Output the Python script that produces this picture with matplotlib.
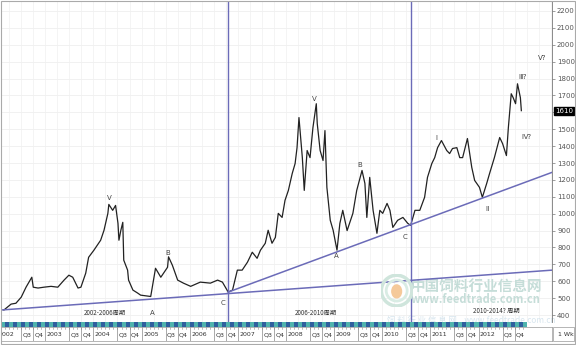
import numpy as np
import matplotlib
matplotlib.use('Agg')
import matplotlib.pyplot as plt
from matplotlib.patches import Circle, Ellipse, Rectangle

# 大豆期货周线: 时间(小数年), 价格
t = [2002.14, 2002.29, 2002.39, 2002.50, 2002.60, 2002.72, 2002.75, 2002.85, 2002.97,
     2003.12, 2003.26, 2003.39, 2003.49, 2003.57, 2003.68, 2003.74, 2003.84, 2003.90,
     2004.01, 2004.15, 2004.22, 2004.30, 2004.32, 2004.40, 2004.46, 2004.51, 2004.53,
     2004.57, 2004.61, 2004.63, 2004.71, 2004.73, 2004.82, 2004.92, 2004.98, 2005.19,
     2005.29, 2005.40, 2005.54, 2005.56, 2005.64, 2005.75, 2005.87, 2006.02, 2006.22,
     2006.43, 2006.58, 2006.68, 2006.80, 2006.89, 2006.99, 2007.09, 2007.20, 2007.30,
     2007.40, 2007.47, 2007.57, 2007.63, 2007.71, 2007.78, 2007.84, 2007.92, 2007.98,
     2008.05, 2008.13, 2008.19, 2008.23, 2008.27, 2008.34, 2008.38, 2008.44, 2008.50,
     2008.56, 2008.63, 2008.65, 2008.71, 2008.77, 2008.81, 2008.85, 2008.92, 2008.98,
     2009.06, 2009.12, 2009.18, 2009.27, 2009.39, 2009.47, 2009.58, 2009.64, 2009.68,
     2009.74, 2009.81, 2009.89, 2009.95, 2010.01, 2010.10, 2010.16, 2010.22, 2010.32,
     2010.43, 2010.53, 2010.59, 2010.68, 2010.78, 2010.88, 2010.94, 2011.03, 2011.09,
     2011.15, 2011.23, 2011.34, 2011.40, 2011.46, 2011.55, 2011.61, 2011.67, 2011.77,
     2011.86, 2011.92, 2012.02, 2012.08, 2012.17, 2012.23, 2012.33, 2012.44, 2012.50,
     2012.58, 2012.62, 2012.68, 2012.72, 2012.77, 2012.81, 2012.87, 2012.89]
price = [430, 465, 470, 506, 565, 624, 565, 560, 565,
         570, 565, 607, 636, 624, 560, 565, 648, 742,
         784, 843, 902, 1002, 1055, 1020, 1049, 943, 843,
         902, 949, 725, 666, 607, 548, 530, 518, 510,
         677, 624, 683, 745, 695, 607, 589, 570, 595,
         589, 607, 595, 536, 548, 666, 666, 713, 772,
         736, 784, 825, 902, 825, 860, 1002, 978, 1079,
         1138, 1238, 1297, 1391, 1569, 1332, 1138, 1374, 1332,
         1509, 1651, 1533, 1374, 1315, 1492, 1156, 961, 902,
         784, 943, 1020, 900, 1002, 1138, 1256, 1179, 978,
         1215, 1020, 884, 1020, 1002, 1061, 1020, 919, 961,
         978, 943, 931, 1020, 1020, 1097, 1215, 1297, 1332,
         1391, 1433, 1374, 1356, 1386, 1391, 1332, 1332, 1445,
         1274, 1197, 1156, 1097, 1179, 1238, 1332, 1451, 1415,
         1344, 1509, 1710, 1687, 1651, 1769, 1687, 1610]
last_price = 1610

# 趋势线与周期分界
low_line_t = [2002.083, 2013.53]
low_line_v = [430, 666]
up_line_t = [2006.80, 2013.53]
up_line_v = [536, 1245]
cycle_t = [2006.80, 2010.59]

# 波浪标注 (文字, 时间, 价格)
wave_labels = [('V', 2004.34, 1090), ('A', 2005.22, 415), ('B', 2005.55, 770),
               ('C', 2006.70, 470), ('V', 2008.59, 1680), ('A', 2009.05, 750),
               ('B', 2009.54, 1290), ('C', 2010.47, 865), ('Ⅰ', 2011.13, 1450),
               ('Ⅱ', 2012.17, 1030), ('Ⅲ?', 2012.91, 1810), ('Ⅳ?', 2012.99, 1455),
               ('V?', 2013.32, 1920)]
cycle_labels = [('2002-2006周期', 2004.24, 415), ('2006-2010周期', 2008.63, 415),
                ('2010-2014? 周期', 2012.37, 425)]

yticks = list(range(400, 2300, 100))
years = list(range(2002, 2013))

line_col = '#6b6bb8'
cjk = ['Noto Sans CJK SC', 'DejaVu Sans']

fig = plt.figure(figsize=(5.76, 3.45), dpi=100)
fig.patch.set_facecolor('white')

# 主图
ax = fig.add_axes([0.002, 23 / 345, 551 / 576, 321 / 345])
ax.set_xlim(2002.083, 2013.53)
ax.set_ylim(359, 2259)

# 淡网格
for v in yticks:
    ax.axhline(v, color='#ececec', lw=0.5, zorder=0)
for yr in years + [2013]:
    for q in (0, 0.25, 0.5, 0.75):
        ax.axvline(yr + q, color='#f0f0f0', lw=0.5, zorder=0)

ax.plot(t, price, color='#222222', lw=0.9, zorder=3)
ax.plot(low_line_t, low_line_v, color=line_col, lw=1.1, zorder=4)
ax.plot(up_line_t, up_line_v, color=line_col, lw=1.1, zorder=4)
for c in cycle_t:
    ax.axvline(c, color=line_col, lw=1.0, zorder=4)

for txt, x, y in wave_labels:
    ax.text(x, y, txt, fontsize=5, color='#444444', ha='center', va='center',
            family=['DejaVu Sans', 'Noto Sans CJK SC'], zorder=5)
for txt, x, y in cycle_labels:
    ax.text(x, y, txt, fontsize=4.5, color='#333333', ha='center', va='center',
            family=cjk, zorder=5)

# 水印
logo_x = fig.transFigure.inverted().transform(ax.transData.transform((2010.3, 545)))
wm = fig.add_axes([logo_x[0] - 0.028, logo_x[1] - 0.047, 0.056, 0.094])
wm.set_xlim(-1, 1)
wm.set_ylim(-1, 1)
wm.set_aspect('equal')
wm.axis('off')
wm.add_patch(Circle((0, 0), 0.95, fill=False, ec='#cfe5dc', lw=2.5))
wm.add_patch(Circle((0, 0), 0.65, fill=False, ec='#d9ece4', lw=2.0))
wm.add_patch(Ellipse((0, -0.05), 0.6, 0.8, color='#f5c99a'))
ax.text(2010.6, 575, '中国饲料行业信息网', fontsize=10.5, color='#c5ddd8',
        family=cjk, fontweight='bold', va='center', ha='left', zorder=2)
ax.text(2010.6, 490, 'www.feedtrade.com.cn', fontsize=8, color='#c5ddd8',
        family=cjk, fontweight='bold', va='center', ha='left', zorder=2)
ax.text(2010.1, 368, '饲 料 行 业 信 息 网    www.feedtrade.com.cn', fontsize=6,
        color='#d8e6ef', style='italic', family=cjk, va='center', ha='left', zorder=2)

# 右侧价格轴
ax.yaxis.tick_right()
ax.set_yticks(yticks)
ax.set_yticklabels(['' if v == 1600 else str(v) for v in yticks])
ax.tick_params(axis='y', labelsize=5, labelcolor='#555555', color='#777777',
               length=2, width=0.5, pad=1.5)
ax.set_xticks([])
for s in ('top', 'left', 'bottom'):
    ax.spines[s].set_visible(False)
ax.spines['right'].set_linestyle((0, (2, 1)))
ax.spines['right'].set_color('#777777')
ax.spines['right'].set_linewidth(0.6)
ax.text(1.006, (last_price - 359) / 1900, str(last_price), transform=ax.transAxes,
        fontsize=5, color='white', va='center', ha='left',
        bbox=dict(boxstyle='square,pad=0.15', fc='black', ec='black'))

# 时间色带
band = fig.add_axes([0.002, 18 / 345, 551 / 576, 5 / 345])
band.set_xlim(2002.083, 2013.53)
band.set_ylim(0, 1)
months = np.arange(2002, 2013, 1 / 12)
band.bar(months, 1, width=1 / 12, align='edge',
         color=['#2f5f9e' if i % 2 == 0 else '#4fb3ad' for i in range(len(months))])
band.axis('off')

# 季度标签栏
lab = fig.add_axes([0.002, 4 / 345, 551 / 576, 14 / 345])
lab.set_xlim(2002.083, 2013.53)
lab.set_ylim(0, 1)
lab.set_xticks([])
lab.set_yticks([])
for s in lab.spines.values():
    s.set_color('#999999')
    s.set_linewidth(0.5)
for yr in years:
    for q, name in ((0, str(yr)), (0.5, 'Q3'), (0.75, 'Q4')):
        lab.axvline(yr + q, color='#888888', lw=0.5)
        lab.text(yr + q + 0.03, 0.45, name, fontsize=4.5, color='#333333',
                 va='center', ha='left', clip_on=True)
    for m in range(1, 12):
        lab.plot([yr + m / 12] * 2, [0.85, 1.0], color='#888888', lw=0.4)
fig.text(0.983, 11 / 345, '1 Wk', fontsize=4.5, color='#333333', ha='center', va='center')
fig.patches.append(Rectangle((553 / 576, 4 / 345), 21 / 576, 14 / 345, fill=False,
                             ec='#999999', lw=0.5, transform=fig.transFigure))

# 外框
fig.patches.append(Rectangle((0.001, 0.002), 0.997, 0.996, fill=False, ec='#aaaaaa',
                             lw=0.8, transform=fig.transFigure))

plt.savefig('out.png', dpi=100)
